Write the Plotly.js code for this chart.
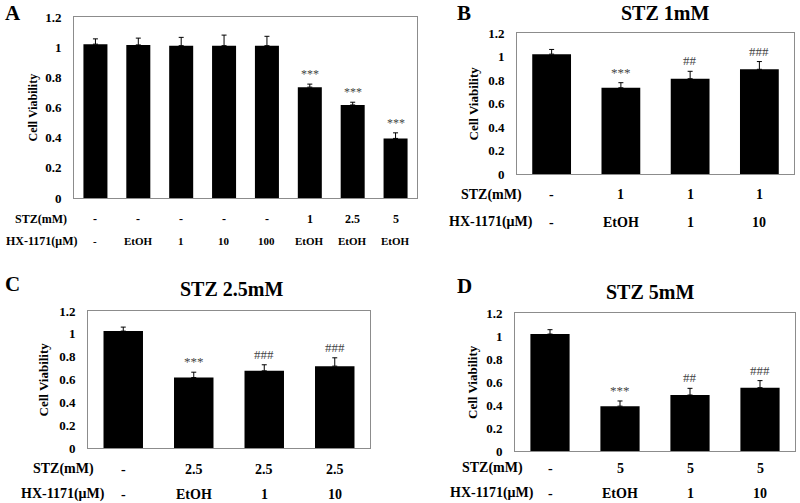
<!DOCTYPE html>
<html>
<head>
<meta charset="utf-8">
<script src="https://cdn.plot.ly/plotly-3.0.1.min.js"></script>
<style>html,body{margin:0;padding:0;background:#fff;}#chart{width:800px;height:503px;}</style>
</head>
<body>
<div id="chart"></div>
<script>
// ---- Data ----
// Panel A
const stzA = ['-', '-', '-', '-', '-', '1', '2.5', '5'];
const hxA = ['-', 'EtOH', '1', '10', '100', 'EtOH', 'EtOH', 'EtOH'];
const valA = [1.02, 1.015, 1.01, 1.01, 1.01, 0.735, 0.617, 0.395];
const errA = [0.035, 0.045, 0.055, 0.07, 0.062, 0.02, 0.018, 0.037];
const sigA = ['', '', '', '', '', '***', '***', '***'];
// Panel B (STZ 1mM)
const stzB = ['-', '1', '1', '1'];
const hxB = ['-', 'EtOH', '1', '10'];
const valB = [1.02, 0.734, 0.811, 0.891];
const errB = [0.04, 0.043, 0.063, 0.066];
const sigB = ['', '***', '##', '###'];
// Panel C (STZ 2.5mM)
const stzC = ['-', '2.5', '2.5', '2.5'];
const hxC = ['-', 'EtOH', '1', '10'];
const valC = [1.024, 0.617, 0.676, 0.717];
const errC = [0.035, 0.047, 0.053, 0.073];
const sigC = ['', '***', '###', '###'];
// Panel D (STZ 5mM)
const stzD = ['-', '5', '5', '5'];
const hxD = ['-', 'EtOH', '1', '10'];
const valD = [1.017, 0.39, 0.487, 0.551];
const errD = [0.038, 0.045, 0.058, 0.061];
const sigD = ['', '***', '##', '###'];

const panelLetters = ['A', 'B', 'C', 'D'];
const panelTitles = ['', 'STZ 1mM', 'STZ 2.5mM', 'STZ 5mM'];
const rowLabelStz = 'STZ(mM)';
const rowLabelHx = 'HX-1171(\u03BCM)';
const yTitle = 'Cell Viability';

// ---- Layout geometry (pixels in an 800x503 canvas) ----
const W = 800, H = 503;
const FONT = 'Liberation Serif, Times New Roman, serif';
const px = v => v / W;
const py = v => 1 - v / H;

const panels = [
  {stz: stzA, hx: hxA, val: valA, err: errA, sig: sigA, box: [74, 417, 17, 198],
   rows: [219, 241], rowCx: 41, rowSize: 12, catSize: 11, ytitleX: 32, ytitleSize: 12,
   letter: [3, 13], title: null, sigSize: 12},
  {stz: stzB, hx: hxB, val: valB, err: errB, sig: sigB, box: [517, 794, 33, 174],
   rows: [195, 222], rowCx: 491, rowSize: 14, catSize: 14, ytitleX: 473, ytitleSize: 13,
   letter: [455, 13], title: [665, 13], sigSize: 13},
  {stz: stzC, hx: hxC, val: valC, err: errC, sig: sigC, box: [88, 370, 311, 448],
   rows: [469, 494], rowCx: 63, rowSize: 14, catSize: 14, ytitleX: 43, ytitleSize: 13,
   letter: [3, 284], title: [232, 289], sigSize: 13},
  {stz: stzD, hx: hxD, val: valD, err: errD, sig: sigD, box: [515, 795, 313, 451],
   rows: [468, 493], rowCx: 492, rowSize: 14, catSize: 14, ytitleX: 472, ytitleSize: 13,
   letter: [455, 286], title: [650, 292], sigSize: 13}
];

const traces = [];
const annotations = [];
const layout = {
  width: W, height: H,
  margin: {l: 0, r: 0, t: 0, b: 0},
  paper_bgcolor: '#ffffff',
  plot_bgcolor: '#ffffff',
  showlegend: false,
  bargap: 0.44,
  font: {family: FONT, color: '#000'},
  annotations: annotations
};

panels.forEach((p, i) => {
  const n = i === 0 ? '' : String(i + 1);
  const xa = 'x' + n, ya = 'y' + n;
  const cats = p.stz.map((s, k) => s + '|' + p.hx[k]);
  traces.push({
    type: 'bar',
    x: cats, y: p.val,
    xaxis: xa, yaxis: ya,
    marker: {color: '#000000', line: {width: 0}},
    error_y: {type: 'data', array: p.err, symmetric: false,
              arrayminus: p.err.map(() => 0), color: '#000000', thickness: 1, width: 2.5},
    hoverinfo: 'x+y'
  });
  layout['xaxis' + n] = {
    domain: [px(p.box[0]), px(p.box[1])],
    anchor: ya, type: 'category',
    range: [-0.5, cats.length - 0.5],
    showticklabels: false, ticks: '',
    showline: true, mirror: true, linecolor: '#8c8c8c', linewidth: 1,
    showgrid: false, zeroline: false, fixedrange: true
  };
  layout['yaxis' + n] = {
    domain: [py(p.box[3]), py(p.box[2])],
    anchor: xa,
    range: [0, 1.2], dtick: 0.2, tick0: 0,
    ticks: '', ticklabelstandoff: 9,
    tickfont: {family: FONT, size: 13, color: '#000', weight: 'bold'},
    showline: true, mirror: true, linecolor: '#8c8c8c', linewidth: 1,
    showgrid: false, zeroline: false, fixedrange: true
  };
  // category label rows
  cats.forEach((c, k) => {
    annotations.push({xref: xa, yref: 'paper', x: c, y: py(p.rows[0]), text: p.stz[k],
      showarrow: false, xanchor: 'center', yanchor: 'middle',
      font: {family: FONT, size: p.rowSize, color: '#000', weight: 'bold'}});
    annotations.push({xref: xa, yref: 'paper', x: c, y: py(p.rows[1]), text: p.hx[k],
      showarrow: false, xanchor: 'center', yanchor: 'middle',
      font: {family: FONT, size: p.catSize, color: '#000', weight: 'bold'}});
    if (p.sig[k]) {
      annotations.push({xref: xa, yref: ya, x: c, y: p.val[k] + p.err[k], text: p.sig[k],
        showarrow: false, xanchor: 'center', yanchor: 'bottom', yshift: 1,
        font: {family: FONT, size: p.sigSize, color: '#444444'}});
    }
  });
  // row labels
  annotations.push({xref: 'paper', yref: 'paper', x: px(p.rowCx), y: py(p.rows[0]), text: rowLabelStz,
    showarrow: false, xanchor: 'center', yanchor: 'middle',
    font: {family: FONT, size: p.rowSize, color: '#000', weight: 'bold'}});
  annotations.push({xref: 'paper', yref: 'paper', x: px(p.rowCx), y: py(p.rows[1]), text: rowLabelHx,
    showarrow: false, xanchor: 'center', yanchor: 'middle',
    font: {family: FONT, size: p.rowSize, color: '#000', weight: 'bold'}});
  // y-axis title
  annotations.push({xref: 'paper', yref: 'paper', x: px(p.ytitleX), y: py((p.box[2] + p.box[3]) / 2),
    text: yTitle, textangle: -90, showarrow: false, xanchor: 'center', yanchor: 'middle',
    font: {family: FONT, size: p.ytitleSize, color: '#000', weight: 'bold'}});
  // panel letter
  annotations.push({xref: 'paper', yref: 'paper', x: px(p.letter[0]), y: py(p.letter[1]),
    text: panelLetters[i], showarrow: false, xanchor: 'left', yanchor: 'middle',
    font: {family: FONT, size: 21, color: '#000', weight: 'bold'}});
  // panel title
  if (p.title) {
    annotations.push({xref: 'paper', yref: 'paper', x: px(p.title[0]), y: py(p.title[1]),
      text: panelTitles[i], showarrow: false, xanchor: 'center', yanchor: 'middle',
      font: {family: FONT, size: 20, color: '#000', weight: 'bold'}});
  }
});

Plotly.newPlot('chart', traces, layout, {displayModeBar: false, staticPlot: true});
</script>
</body>
</html>
